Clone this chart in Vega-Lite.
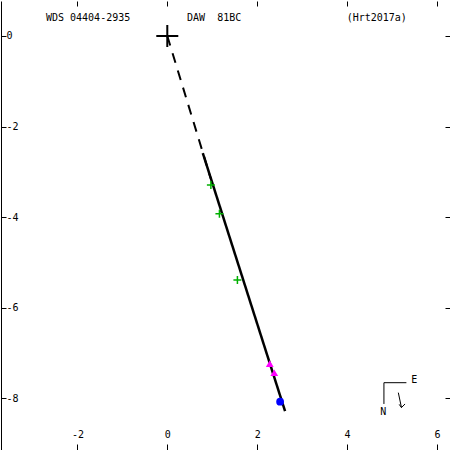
{
  "$schema": "https://vega.github.io/schema/vega-lite/v6.json",
  "width": 449,
  "height": 449,
  "padding": 0,
  "background": "white",
  "config": {
    "view": {"stroke": null},
    "axis": {
      "grid": false,
      "title": null,
      "labelFont": "DejaVu Sans Mono",
      "labelFontSize": 10,
      "labelColor": "black",
      "tickColor": "black",
      "domainColor": "black",
      "labelFlush": false,
      "labelOverlap": false,
      "tickWidth": 1
    }
  },
  "datasets": {
    "node": [
      {"x": 0, "y": 0, "i": 0},
      {"x": 0.97, "y": -3.16, "i": 1}
    ],
    "orbit": [
      {"x": 0.79, "y": -2.59, "i": 0},
      {"x": 2.62, "y": -8.29, "i": 1}
    ],
    "primary": [{"x": 0, "y": 0}],
    "green": [
      {"x": 0.97, "y": -3.29},
      {"x": 1.16, "y": -3.93},
      {"x": 1.56, "y": -5.39}
    ],
    "magenta": [
      {"x": 2.28, "y": -7.24},
      {"x": 2.38, "y": -7.44}
    ],
    "blue": [{"x": 2.51, "y": -8.08}],
    "compass": [
      {"seg": "a", "i": 0, "x": 5.32, "y": -7.66},
      {"seg": "a", "i": 1, "x": 4.82, "y": -7.66},
      {"seg": "a", "i": 2, "x": 4.82, "y": -8.13},
      {"seg": "b", "i": 0, "x": 5.14, "y": -7.88},
      {"seg": "b", "i": 1, "x": 5.21, "y": -8.21},
      {"seg": "c", "i": 0, "x": 5.16, "y": -8.14},
      {"seg": "c", "i": 1, "x": 5.21, "y": -8.21},
      {"seg": "c", "i": 2, "x": 5.29, "y": -8.13}
    ],
    "labels": [
      {"x": -2.70, "y": 0.40, "t": "WDS 04404-2935"},
      {"x": 0.44, "y": 0.40, "t": "DAW\u00a0\u00a081BC"},
      {"x": 3.99, "y": 0.40, "t": "(Hrt2017a)"},
      {"x": 5.43, "y": -7.61, "t": "E"},
      {"x": 4.74, "y": -8.30, "t": "N"}
    ]
  },
  "resolve": {"axis": {"x": "independent", "y": "independent"}},
  "layer": [
    {
      "data": {"name": "node"},
      "mark": {"type": "line", "color": "black", "strokeWidth": 2, "strokeDash": [10, 8]},
      "encoding": {
        "x": {
          "field": "x", "type": "quantitative",
          "scale": {"domain": [-3.70, 6.29], "nice": false, "zero": false},
          "axis": {
            "orient": "bottom", "values": [-2, 0, 2, 4, 6], "tickSize": -6,
            "labelPadding": -5, "labelBaseline": "bottom", "labelAlign": "center",
            "domain": true, "domainWidth": 1,
            "labelExpr": "datum.value < 0 ? '-' + abs(datum.value) : '' + datum.value"
          }
        },
        "y": {
          "field": "y", "type": "quantitative",
          "scale": {"domain": [-9.147, 0.773], "nice": false, "zero": false},
          "axis": {
            "orient": "left", "values": [0, -2, -4, -6, -8], "tickSize": -5,
            "labelPadding": 0, "labelAlign": "left", "labelBaseline": "middle",
            "domain": true, "domainWidth": 1,
            "labelExpr": "datum.value < 0 ? '-' + abs(datum.value) : '' + datum.value"
          }
        },
        "order": {"field": "i"}
      }
    },
    {
      "data": {"name": "orbit"},
      "mark": {"type": "line", "color": "black", "strokeWidth": 2.5},
      "encoding": {
        "x": {
          "field": "x", "type": "quantitative",
          "axis": {"orient": "top", "values": [-2, 0, 2, 4, 6], "tickSize": -5, "labels": false, "domain": false}
        },
        "y": {
          "field": "y", "type": "quantitative",
          "axis": {"orient": "right", "values": [0, -2, -4, -6, -8], "tickSize": -5, "labels": false, "domain": false}
        },
        "order": {"field": "i"}
      }
    },
    {
      "data": {"name": "primary"},
      "mark": {"type": "point", "shape": "M-1,0L1,0M0,-1L0,1", "filled": false, "color": "black", "strokeWidth": 2, "size": 484, "opacity": 1},
      "encoding": {
        "x": {"field": "x", "type": "quantitative", "axis": null},
        "y": {"field": "y", "type": "quantitative", "axis": null}
      }
    },
    {
      "data": {"name": "green"},
      "mark": {"type": "point", "shape": "M-1,0L1,0M0,-1L0,1", "filled": false, "color": "#00b000", "strokeWidth": 1.5, "size": 64, "opacity": 1},
      "encoding": {
        "x": {"field": "x", "type": "quantitative", "axis": null},
        "y": {"field": "y", "type": "quantitative", "axis": null}
      }
    },
    {
      "data": {"name": "magenta"},
      "mark": {"type": "point", "shape": "triangle-up", "filled": true, "color": "#ff00ff", "size": 60, "opacity": 1},
      "encoding": {
        "x": {"field": "x", "type": "quantitative", "axis": null},
        "y": {"field": "y", "type": "quantitative", "axis": null}
      }
    },
    {
      "data": {"name": "blue"},
      "mark": {"type": "point", "shape": "circle", "filled": true, "color": "#0000ff", "size": 60, "opacity": 1},
      "encoding": {
        "x": {"field": "x", "type": "quantitative", "axis": null},
        "y": {"field": "y", "type": "quantitative", "axis": null}
      }
    },
    {
      "data": {"name": "compass"},
      "mark": {"type": "line", "color": "black", "strokeWidth": 1},
      "encoding": {
        "x": {"field": "x", "type": "quantitative", "axis": null},
        "y": {"field": "y", "type": "quantitative", "axis": null},
        "detail": {"field": "seg"},
        "order": {"field": "i"}
      }
    },
    {
      "data": {"name": "labels"},
      "mark": {"type": "text", "font": "DejaVu Sans Mono", "fontSize": 10, "align": "left", "baseline": "middle", "color": "black"},
      "encoding": {
        "x": {"field": "x", "type": "quantitative", "axis": null},
        "y": {"field": "y", "type": "quantitative", "axis": null},
        "text": {"field": "t"}
      }
    }
  ]
}
